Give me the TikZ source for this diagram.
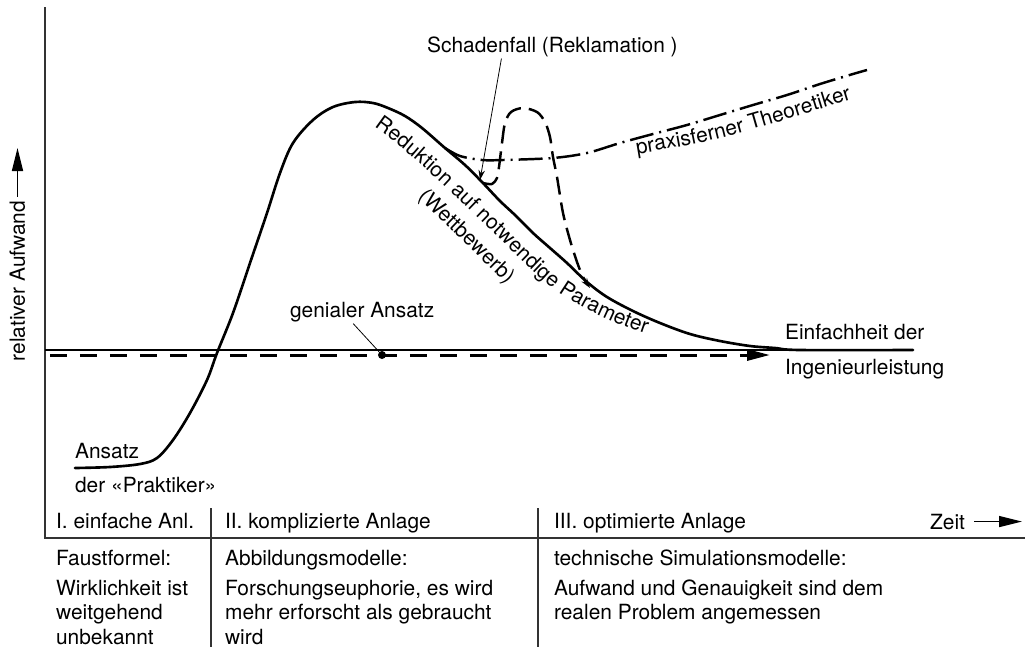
\documentclass[tikz,border=0pt]{standalone}
\usepackage{fontspec}
\setmainfont{TeX Gyre Heros}
\usetikzlibrary{arrows.meta,calc,decorations.text}
\newcommand{\lblfont}{\fontsize{11.9}{14}\selectfont}

\begin{document}
\begin{tikzpicture}[
			x=0.02cm, y=-0.02cm,
			>={Triangle[length=0.46cm,width=0.22cm]},
			every node/.style = {font=\lblfont, inner sep=1pt},
			frame/.style      = {draw=black!80, line width=0.85pt},
			curve/.style      = {line width=1.5pt, line join=round, line cap=round},
			loopline/.style   = {line width=1.4pt, dash pattern=on 0.36cm off 0.16cm},
			theory/.style     = {line width=1.4pt, dash pattern=on 0.48cm off 0.12cm on 0.04cm off 0.12cm},
			ideal/.style      = {line width=1.7pt, dash pattern=on 0.34cm off 0.26cm},
			leader/.style     = {line width=0.45pt},
			small/.style      = {-{Stealth[length=0.2cm,width=0.13cm]}}
			]
			\useasboundingbox (0,0) rectangle (1025,647);
			
			%--- axes and table ---
			\draw[frame] (45,7) -- (45,538) -- (1025,538);
			\draw[frame] (211,508) -- (211,647);
			\draw[frame] (538,508) -- (538,647);
			
			%--- axis labels ---
			\node[rotate=90, anchor=base, inner sep=2pt] (ylab) at (25,281) {relativer Aufwand};
			\coordinate (ytip) at (17,148);
			\draw[->, line width=0.8pt] (ylab.east) -- (ylab.east |- ytip);
			
			\node[anchor=base west] (zeit) at (928,529) {Zeit};
			\coordinate (ztip) at (1022,523);
			\draw[->, line width=0.8pt] ([xshift=4pt]zeit.east) -- (zeit.east -| ztip);
			
			%--- phases ---
			\node[anchor=base west] (ph1) at (54,528)  {I. einfache Anl.};
			\node[anchor=base west] (ph2) at (223,528) {II. komplizierte Anlage};
			\node[anchor=base west] (ph3) at (552,528) {III. optimierte Anlage};
			
			\node[anchor=base west] (m1) at (54,565)  {Faustformel:};
			\node[anchor=base west] (m2) at (223,565) {Abbildungsmodelle:};
			\node[anchor=base west] (m3) at (552,565) {technische Simulationsmodelle:};
			
			\node[anchor=base west] (d1a) at (54,595)   {Wirklichkeit ist};
			\node[anchor=base west] (d1b) at (54,619.5) {weitgehend};
			\node[anchor=base west] (d1c) at (54,644)   {unbekannt};
			
			\node[anchor=base west] (d2a) at (223,595)   {Forschungseuphorie, es wird};
			\node[anchor=base west] (d2b) at (223,619.5) {mehr erforscht als gebraucht};
			\node[anchor=base west] (d2c) at (223,644)   {wird};
			
			\node[anchor=base west] (d3a) at (552,595)   {Aufwand und Genauigkeit sind dem};
			\node[anchor=base west] (d3b) at (552,619.5) {realen Problem angemessen};
			
			%--- ideal line and simple solution ---
			\draw[leader, line width=0.8pt] (45,350) -- (913,350);
			\coordinate (istart) at (50,355);
			\coordinate (itip) at (770,355);
			\draw[ideal, ->] (istart) -- (itip);
			
			\node[anchor=base west] (genial) at (288,317) {genialer Ansatz};
			\node[circle, fill, inner sep=0pt, minimum size=0.16cm] (dot) at (382,355) {};
			\draw[leader] ($(genial.south west)!0.44!(genial.south east)$) -- (dot);
			
			%--- main curve ---
			\draw[curve] plot[smooth, tension=0.55] coordinates {
				(75,468) (110,467) (140,464) (157,458) (173,440) (190,413) (207,380)
				(217,353) (233,313) (250,263) (267,213) (280,173) (293,143) (313,120)
				(333,107) (355,102) (373,103) (388,108) (405,116) (422,128) (445,148)
				(465,165) (482,182) (500,201) (515,215) (533,233) (550,248) (567,263)
				(587,282) (607,297) (633,311) (660,323) (690,334) (720,341) (750,346)
				(775,348) (800,350) (913,350)};
			
			\node[anchor=base west] (ans)  at (73,458) {Ansatz};
			\node[anchor=base west] (prak) at (73,492) {der «Praktiker»};
			\node[anchor=base west] (einf) at (783,339) {Einfachheit der};
			\node[anchor=base west] (ing)  at (783,374) {Ingenieurleistung};
			
			\path[decorate, decoration={text along path,
				text={|\lblfont|Reduktion auf notwendige Parameter}}]
				(374,127) .. controls (421,159) and (491,232) .. (538,276)
				.. controls (566,302) and (611,324) .. (661,339);
			\node[rotate=-44] (wett) at (466,237) {(Wettbewerb)};
			
			%--- theorist ---
			\draw[theory] plot[smooth] coordinates {(445,148) (460,156) (482,160)
				(503,160) (553,158) (587,153) (620,143) (653,134) (687,125)
				(720,115) (753,105) (787,95) (820,84) (853,74) (867,70)};
			\path[decorate, decoration={text along path,
				text={|\lblfont|praxisferner Theoretiker}}]
				(637,154) .. controls (720,140) .. (862,96);
			
			%--- damage case ---
			\node[anchor=base west] (schaden) at (425,52) {Schadenfall (Reklamation )};
			\coordinate (hit) at (480,180);
			\draw[leader, small] ($(schaden.south west)!0.3!(schaden.south east)$) -- (hit);
			\draw[loopline, small] plot[smooth] coordinates {(483,183) (492,184)
				(497,178) (499,167) (502,143) (505,123) (511,112) (523,108) (537,112)
				(545,122) (550,137) (553,157) (557,177) (563,213) (570,240)
				(577,262) (583,277) (590,288)};
		\end{tikzpicture}
\end{document}
